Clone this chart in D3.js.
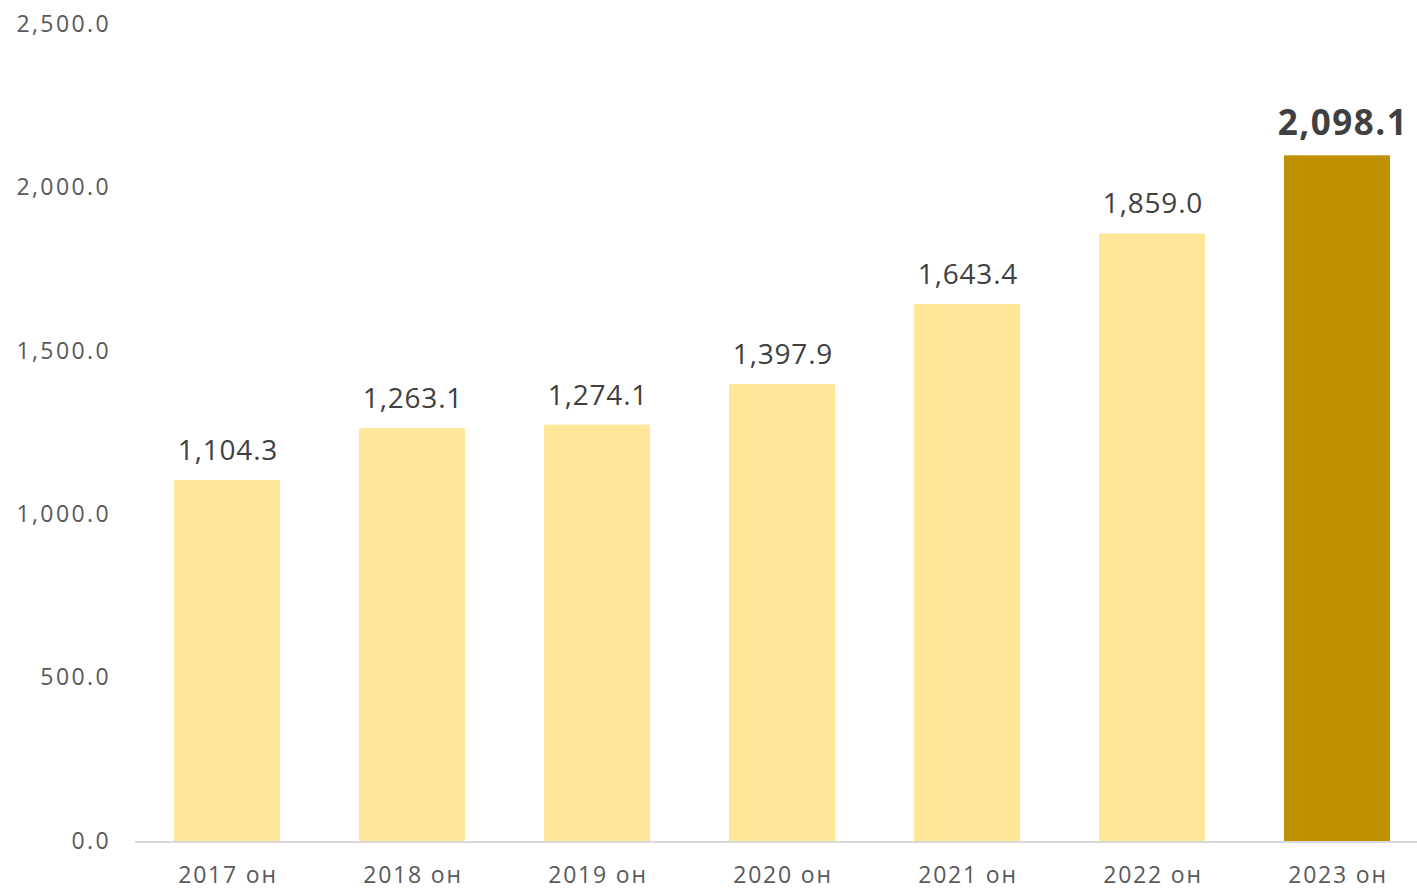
<!DOCTYPE html>
<html>
<head>
<meta charset="utf-8">
<script src="https://cdn.jsdelivr.net/npm/d3@7/dist/d3.min.js"></script>
<style>
  html, body { margin: 0; padding: 0; background: #fff; overflow: hidden; }
  svg { display: block; font-family: "Open Sans", "Noto Sans", sans-serif; }
</style>
</head>
<body>
<svg id="chart" width="1417" height="889"></svg>
<script>
// Annual values per year
const categories = ["2017 он", "2018 он", "2019 он", "2020 он", "2021 он", "2022 он", "2023 он"];
const values = [1104.3, 1263.1, 1274.1, 1397.9, 1643.4, 1859.0, 2098.1];
const yTicks = [0, 500, 1000, 1500, 2000, 2500];

const svg = d3.select("#chart");
const fmt = d3.format(",.1f");
const last = categories.length - 1;

const x = d3.scaleBand()
  .domain(categories)
  .range([134.5, 1429.5])
  .paddingInner(0.427)
  .paddingOuter(0.2135);

const y = d3.scaleLinear()
  .domain([0, 2500])
  .range([841, 24]);

// Y axis labels (no line, no ticks)
const yAxis = svg.append("g")
  .attr("transform", "translate(111,0)")
  .call(d3.axisLeft(y).tickValues(yTicks).tickFormat(fmt).tickSize(0).tickPadding(0));
yAxis.select(".domain").remove();
yAxis.selectAll("text")
  .attr("fill", "#595959")
  .style("font-size", "23px")
  .style("letter-spacing", "2.4px")
  .style("font-family", "'Open Sans', sans-serif");

// Bars
svg.append("g").selectAll("rect")
  .data(values)
  .join("rect")
  .attr("x", (d, i) => x(categories[i]))
  .attr("width", x.bandwidth())
  .attr("y", d => y(d))
  .attr("height", d => y(0) - y(d))
  .attr("fill", (d, i) => i === last ? "#BF9000" : "#FFE699");

// Baseline
svg.append("line")
  .attr("x1", 135).attr("x2", 1417)
  .attr("y1", y(0) + 1).attr("y2", y(0) + 1)
  .attr("stroke", "#D9D9D9")
  .attr("stroke-width", 2);

// X axis labels
const xAxis = svg.append("g")
  .attr("transform", `translate(0,${y(0)})`)
  .call(d3.axisBottom(x).tickSize(0).tickPadding(26));
xAxis.select(".domain").remove();
xAxis.selectAll("text")
  .attr("fill", "#595959")
  .attr("dx", "1px")
  .style("font-size", "23px")
  .style("letter-spacing", "1.8px")
  .style("font-family", "'Open Sans', sans-serif");

// Value labels
svg.append("g").selectAll("text")
  .data(values)
  .join("text")
  .attr("x", (d, i) => x(categories[i]) + x.bandwidth() / 2 + (i === last ? 6 : 1))
  .attr("y", d => y(d) - 20)
  .attr("text-anchor", "middle")
  .attr("fill", "#404040")
  .style("font-size", (d, i) => i === last ? "35px" : "28px")
  .style("font-weight", (d, i) => i === last ? "700" : "400")
  .style("letter-spacing", (d, i) => i === last ? "1.5px" : "0.8px")
  .text(d => fmt(d));
</script>
</body>
</html>
